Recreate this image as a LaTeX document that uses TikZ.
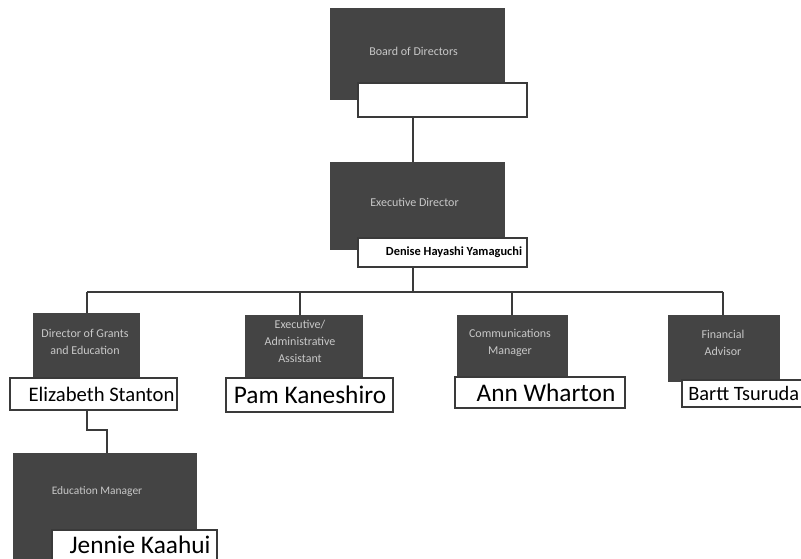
\documentclass[tikz,border=0pt]{standalone}
\usepackage{fontspec}
\setmainfont{Carlito}
\definecolor{darkfill}{HTML}{444444}
\definecolor{paletext}{HTML}{C8C8C8}
\definecolor{edgec}{HTML}{3A3A3A}
\begin{document}
\begin{tikzpicture}[x=0.75pt,y=-0.75pt,
  darkbox/.style={fill=darkfill, draw=none, inner sep=0pt},
  whitebox/.style={fill=white, draw=edgec, line width=0.8pt, inner sep=0pt},
  roletext/.style={text=paletext, font=\fontsize{9}{12.75}\selectfont, align=center, inner sep=0pt},
  nametext/.style={text=black, inner sep=0pt},
  link/.style={draw=edgec, line width=1.1pt}]
\useasboundingbox (0,0) rectangle (801,559);
\fill[white] (0,0) rectangle (801,559);
\clip (0,0) rectangle (801,559);

% boxes
\node[darkbox, minimum width=131.25pt, minimum height=69pt] (boardD) at (417.5,54) {};
\node[whitebox, minimum width=126.75pt, minimum height=25.5pt] (boardW) at (442.5,100) {};
\node[darkbox, minimum width=131.25pt, minimum height=66pt] (execD) at (417.5,206) {};
\node[whitebox, minimum width=126.75pt, minimum height=21.75pt] (execW) at (442.5,252.5) {};

\node[darkbox, minimum width=80.25pt, minimum height=48.75pt] (grantsD) at (86.5,345.5) {};
\node[whitebox, minimum width=125.25pt, minimum height=24pt] (grantsW) at (93.5,394) {};
\node[darkbox, minimum width=88.5pt, minimum height=47.25pt] (assistD) at (304,346.5) {};
\node[whitebox, minimum width=125.25pt, minimum height=25.5pt] (assistW) at (309.5,395) {};
\node[darkbox, minimum width=83.25pt, minimum height=46.5pt] (commD) at (512.5,346) {};
\node[whitebox, minimum width=127.5pt, minimum height=23.25pt] (commW) at (540,392.5) {};
\node[darkbox, minimum width=84pt, minimum height=50.25pt] (finD) at (724,348.5) {};
\node[whitebox, minimum width=111pt, minimum height=20.25pt] (finW) at (756,393.5) {};
\node[darkbox, minimum width=138pt, minimum height=110.25pt] (eduD) at (105,526.5) {};
\node[whitebox, minimum width=123.75pt, minimum height=27pt] (eduW) at (134.5,548) {};

% role texts
\node[roletext] (boardT) at (413.5,51) {Board of Directors};
\node[roletext] (execT) at (414.5,202) {Executive Director};
\node[roletext] (grantsT) at (85,341.5) {Director of Grants\\and Education};
\node[roletext] (assistT) at (300,341.5) {Executive/\\Administrative\\Assistant};
\node[roletext] (commT) at (510,342.5) {Communications\\Manager};
\node[roletext] (finT) at (723,343) {Financial\\Advisor};
\node[roletext, font=\fontsize{8.6}{11}\selectfont] (eduT) at (97,492) {Education Manager};

% names
\node[nametext, font=\fontsize{9.3}{11}\selectfont\bfseries] (execN) at (454,252.5) {Denise Hayashi Yamaguchi};
\node[nametext, font=\fontsize{15.5}{18}\selectfont] (grantsN) at (101.5,394) {Elizabeth Stanton};
\node[nametext, font=\fontsize{19}{22}\selectfont] (assistN) at (310,395) {Pam Kaneshiro};
\node[nametext, font=\fontsize{19}{22}\selectfont] (commN) at (546,392.5) {Ann Wharton};
\node[nametext, font=\fontsize{15.3}{18}\selectfont, anchor=west] (finN) at (688,393.5) {Bartt Tsuruda};
\node[nametext, font=\fontsize{19}{22}\selectfont] (eduN) at (140,545) {Jennie Kaahui};

% connectors
\coordinate (spine) at (413,292);
\coordinate (busL) at (87,292);
\coordinate (busR) at (723,292);
\coordinate (bus2) at (300,292);
\coordinate (bus3) at (512,292);
\coordinate (eduTurn) at (107,430);
\draw[link] (spine |- boardW.south) -- (spine |- execD.north);
\draw[link] (spine |- execW.south) -- (spine);
\draw[link] (busL) -- (busR);
\draw[link] (busL) -- (busL |- grantsD.north);
\draw[link] (bus2) -- (bus2 |- assistD.north);
\draw[link] (bus3) -- (bus3 |- commD.north);
\draw[link] (busR) -- (busR |- finD.north);
\draw[link] (busL |- grantsW.south) -- (busL |- eduTurn) -- (eduTurn) -- (eduTurn |- eduD.north);
\end{tikzpicture}
\end{document}
